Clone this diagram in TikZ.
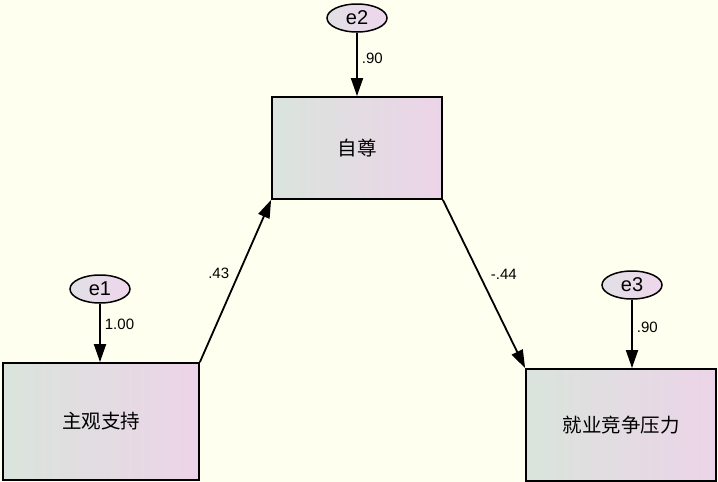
\documentclass[tikz,border=0pt]{standalone}
\usepackage{fontspec}
\setmainfont{Liberation Sans}
\newfontfamily\cjk{Noto Sans CJK SC}
\usetikzlibrary{arrows.meta, shapes.geometric}

\definecolor{paper}{RGB}{255,255,240}
\definecolor{boxleft}{RGB}{218,228,220}
\definecolor{boxright}{RGB}{236,212,232}
\definecolor{errleft}{RGB}{226,224,230}
\definecolor{errright}{RGB}{238,214,236}

\begin{document}
\begin{tikzpicture}[
  x=1pt, y=-1pt,
  observed/.style={draw, line width=1.8pt, shading angle=70,
                   left color=boxleft, right color=boxright,
                   font=\cjk\fontsize{19.5}{22}\selectfont, inner sep=0pt},
  errvar/.style={draw, ellipse, line width=1.5pt, minimum width=60pt, minimum height=28pt,
                 inner sep=0pt, left color=errleft, right color=errright,
                 font=\fontsize{20}{22}\selectfont},
  regpath/.style={-{Triangle[length=18pt,width=12pt]}, line width=1.8pt},
  coef/.style={font=\fontsize{15}{17}\selectfont, inner sep=1pt},
]
\useasboundingbox (0,0) rectangle (718,482);
\fill[paper] (0,0) rectangle (718,482);

% Observed variables
\node[observed, minimum width=196pt, minimum height=117pt] (support) at (101,421.5) {主观支持};
\node[observed, minimum width=170pt, minimum height=102pt] (esteem) at (357,148) {自尊};
\node[observed, minimum width=190pt, minimum height=112pt] (stress) at (621,425) {就业竞争压力};

% Error terms
\node[errvar] (e1) at (100,289) {e1};
\node[errvar] (e2) at (357,18) {e2};
\node[errvar] (e3) at (632,285) {e3};

% Error paths
\draw[regpath] (e1.south) -- (e1.south |- support.north) node[coef, pos=0.35, right=3pt] {1.00};
\draw[regpath] (e2) -- (esteem) node[coef, pos=0.40, right=3pt] {.90};
\draw[regpath] (e3.south) -- (e3.south |- stress.north) node[coef, pos=0.40, right=3pt] {.90};

% Structural paths
\draw[regpath] (support.north east) -- (esteem.south west)
  node[coef, pos=0.55, left=8pt] {.43};
\draw[regpath] (esteem.south east) -- (stress.north west)
  node[coef, pos=0.44, right=10pt] {-.44};

\end{tikzpicture}
\end{document}
